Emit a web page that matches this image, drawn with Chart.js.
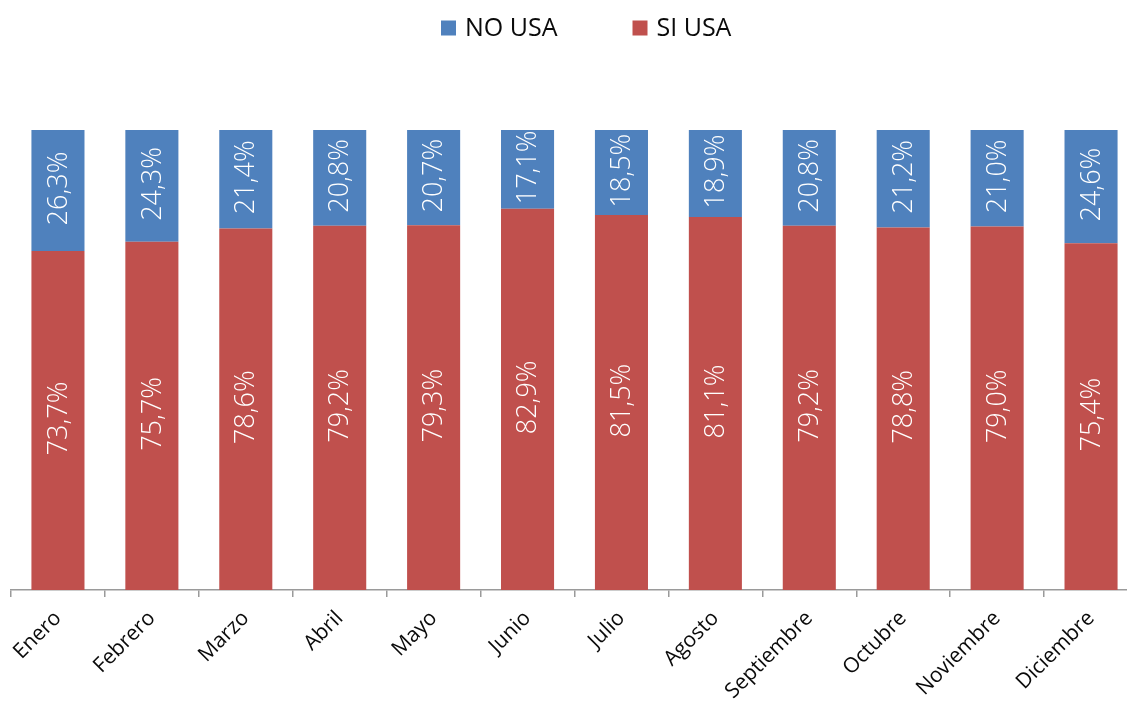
<!DOCTYPE html>
<html>
<head>
<meta charset="utf-8">
<script src="https://cdn.jsdelivr.net/npm/chart.js@4.4.1/dist/chart.umd.min.js"></script>
<style>
  html, body { margin: 0; padding: 0; background: #ffffff; overflow: hidden; }
  #wrap { width: 1138px; height: 704px; position: relative; }
</style>
</head>
<body>
<div id="wrap"><canvas id="chart"></canvas></div>
<script>
// Monthly share of respondents: uses / does not use
const months = ['Enero', 'Febrero', 'Marzo', 'Abril', 'Mayo', 'Junio', 'Julio',
  'Agosto', 'Septiembre', 'Octubre', 'Noviembre', 'Diciembre'];
const siUsa = [73.7, 75.7, 78.6, 79.2, 79.3, 82.9, 81.5, 81.1, 79.2, 78.8, 79.0, 75.4];
const noUsa = [26.3, 24.3, 21.4, 20.8, 20.7, 17.1, 18.5, 18.9, 20.8, 21.2, 21.0, 24.6];
const seriesNames = ['SI USA', 'NO USA'];
const seriesColors = ['#C0504D', '#4F81BD'];

const FONT = "'Open Sans', 'DejaVu Sans', sans-serif";

const fmt = v => v.toFixed(1).replace('.', ',') + '%';

// White vertical value labels centred in every segment
const segmentLabels = {
  id: 'segmentLabels',
  afterDatasetsDraw(chart) {
    const ctx = chart.ctx;
    ctx.save();
    ctx.fillStyle = '#ffffff';
    ctx.font = '300 27px ' + FONT;
    ctx.textAlign = 'center';
    ctx.textBaseline = 'middle';
    chart.data.datasets.forEach((ds, di) => {
      const meta = chart.getDatasetMeta(di);
      meta.data.forEach((bar, i) => {
        const cy = (bar.y + bar.base) / 2;
        ctx.save();
        ctx.translate(bar.x, cy);
        ctx.rotate(-Math.PI / 2);
        ctx.fillText(fmt(ds.data[i]), 2, 1);
        ctx.restore();
      });
    });
    ctx.restore();
  }
};

// Legend row at the top: NO USA first, then SI USA
const topLegend = {
  id: 'topLegend',
  afterDraw(chart) {
    const ctx = chart.ctx;
    const items = chart.data.datasets.slice().reverse();
    const box = 15, gap = 9, spacing = 75, y = 28;
    ctx.save();
    ctx.font = '25px ' + FONT;
    ctx.textBaseline = 'middle';
    ctx.textAlign = 'left';
    let x = 441;
    items.forEach(d => {
      ctx.fillStyle = d.backgroundColor;
      ctx.fillRect(x, y - box / 2, box, box);
      ctx.fillStyle = '#0a0a0a';
      ctx.fillText(d.label, x + box + gap, y + 1);
      x += box + gap + ctx.measureText(d.label).width + spacing;
    });
    ctx.restore();
  }
};

new Chart(document.getElementById('chart'), {
  type: 'bar',
  data: {
    labels: months,
    datasets: [
      { label: seriesNames[0], data: siUsa, backgroundColor: seriesColors[0] },
      { label: seriesNames[1], data: noUsa, backgroundColor: seriesColors[1] }
    ]
  },
  options: {
    responsive: true,
    maintainAspectRatio: false,
    animation: false,
    devicePixelRatio: 1,
    layout: { padding: { top: 130, left: 11, right: 0, bottom: 0 } },
    datasets: { bar: { categoryPercentage: 1, barPercentage: 0.565, borderWidth: 0 } },
    plugins: {
      legend: { display: false },
      tooltip: { enabled: false }
    },
    scales: {
      x: {
        stacked: true,
        offset: true,
        afterFit(scale) { scale.height = 114; },
        grid: { offset: true, drawOnChartArea: false, drawTicks: true, tickLength: 7, color: '#9a9a9a', lineWidth: 1.5 },
        border: { display: true, color: '#9a9a9a', width: 1.5 },
        ticks: {
          color: '#0a0a0a',
          font: { family: FONT, size: 21 },
          minRotation: 45,
          maxRotation: 45,
          padding: 9,
          autoSkip: false
        }
      },
      y: {
        stacked: true,
        display: false,
        min: 0,
        max: 100
      }
    }
  },
  plugins: [segmentLabels, topLegend]
});
</script>
</body>
</html>
